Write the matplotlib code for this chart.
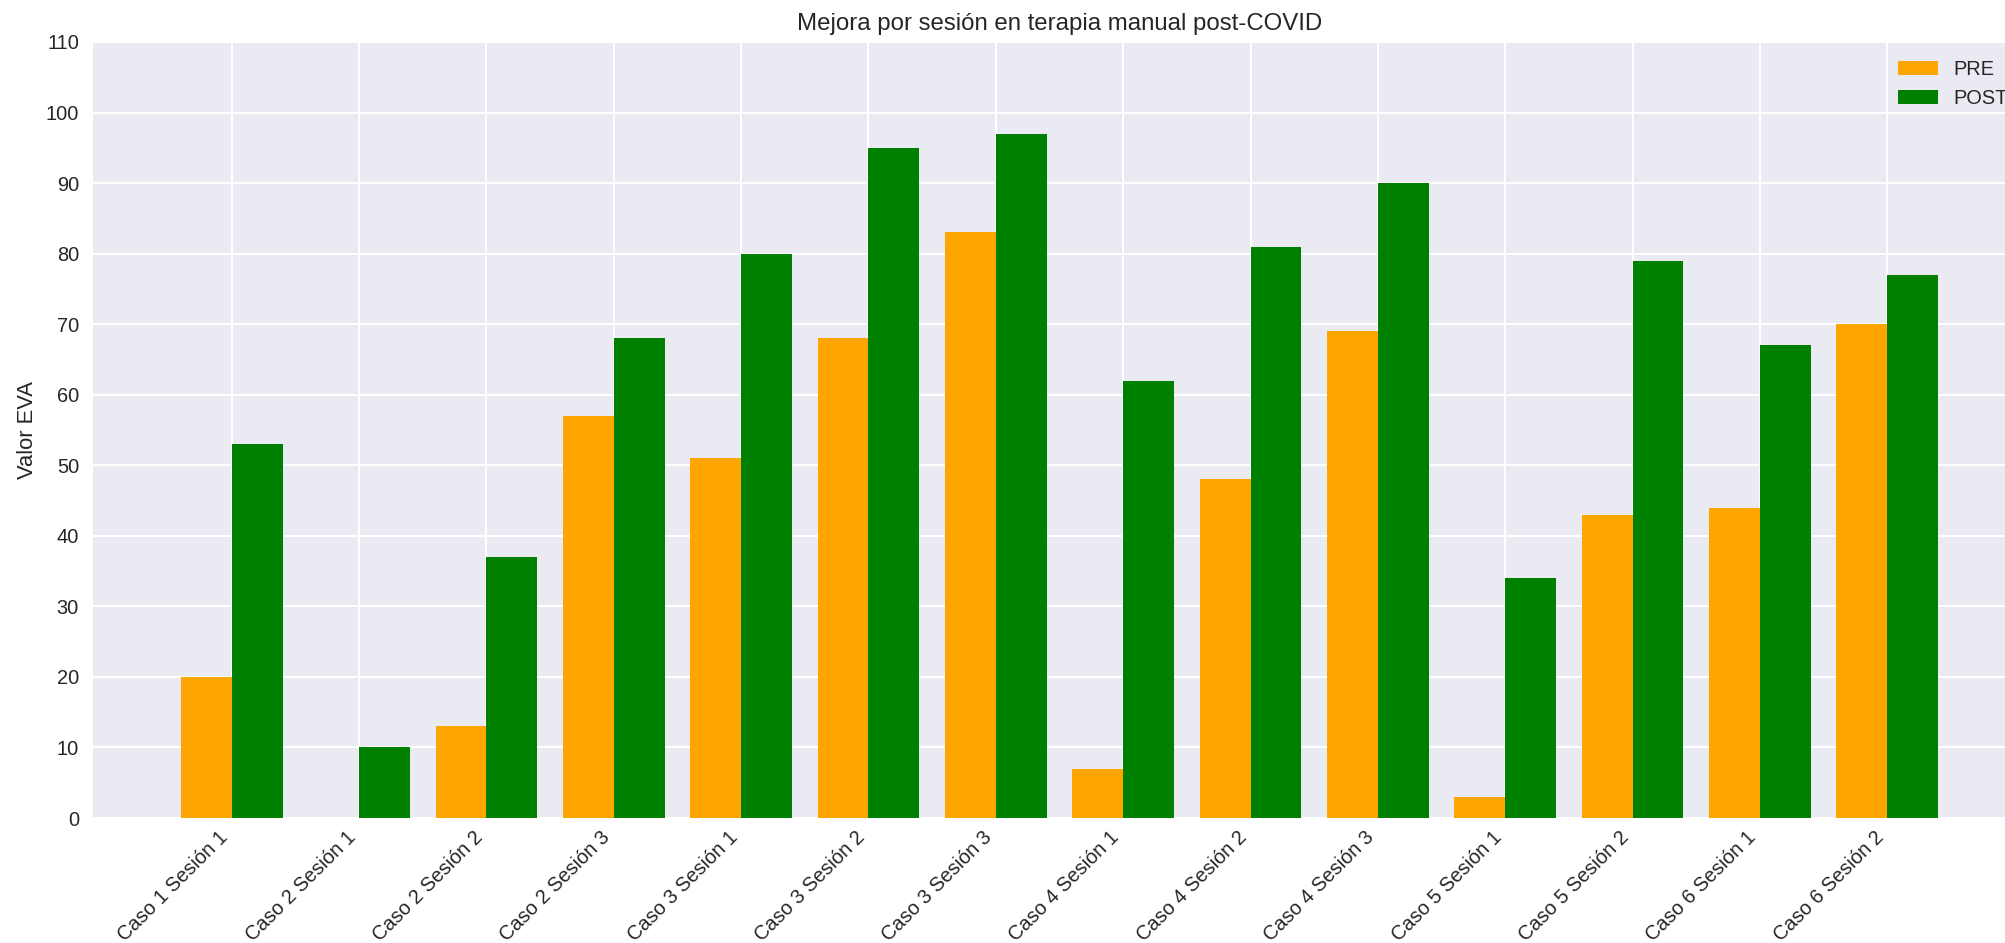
import numpy as np
import matplotlib
matplotlib.use("Agg")
import matplotlib.pyplot as plt

# datos
sesiones = ["Caso 1 Sesión 1", "Caso 2 Sesión 1", "Caso 2 Sesión 2", "Caso 2 Sesión 3",
            "Caso 3 Sesión 1", "Caso 3 Sesión 2", "Caso 3 Sesión 3", "Caso 4 Sesión 1",
            "Caso 4 Sesión 2", "Caso 4 Sesión 3", "Caso 5 Sesión 1", "Caso 5 Sesión 2",
            "Caso 6 Sesión 1", "Caso 6 Sesión 2"]
pre = [20, 0, 13, 57, 51, 68, 83, 7, 48, 69, 3, 43, 44, 70]
post = [53, 10, 37, 68, 80, 95, 97, 62, 81, 90, 34, 79, 67, 77]

plt.style.use("seaborn-v0_8")

def main():
    dpi = 144
    fig = plt.figure(figsize=(2005 / dpi, 943 / dpi), dpi=dpi)
    # el eje sobresale un poco a la derecha (la leyenda queda cortada como en el original)
    ax = fig.add_axes([93 / 2005, 125 / 943, (2026 - 93) / 2005, 776 / 943])

    x = np.arange(len(sesiones))
    ancho = 0.4
    ax.bar(x - ancho / 2, pre, ancho, label="PRE", color="orange")
    ax.bar(x + ancho / 2, post, ancho, label="POST", color="green")

    ax.set_xticks(x)
    ax.set_xticklabels(sesiones, rotation=45, ha="right")
    ax.tick_params(axis="x", pad=5)
    ax.set_ylim(0, 110)
    ax.set_yticks(np.arange(0, 111, 10))
    ax.set_ylabel("Valor EVA")
    ax.set_title("Mejora por sesión en terapia manual post-COVID")
    ax.legend(loc="upper right")

    fig.savefig("out.png", dpi=dpi)

if __name__ == "__main__":
    main()
